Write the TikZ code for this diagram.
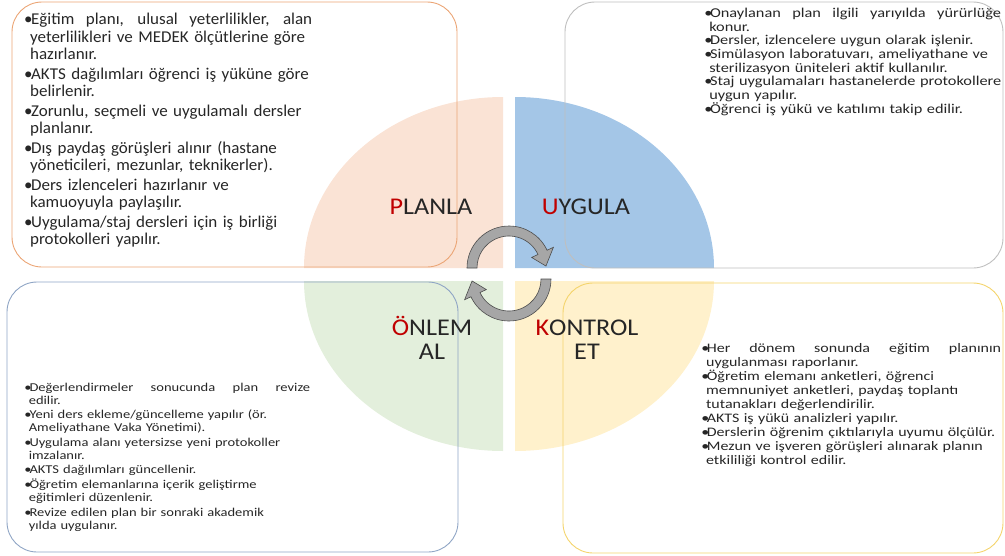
\documentclass[tikz,border=0pt]{standalone}
\usepackage{fontspec}
\setmainfont{Carlito}
\newfontfamily\tlfont[FakeStretch=1.03]{Carlito}
\newfontfamily\trfont[FakeStretch=1.21]{Carlito}
\newfontfamily\blfont[FakeStretch=1.21]{Carlito}
\newfontfamily\brfont[FakeStretch=1.23]{Carlito}
\newfontfamily\labfont[FakeStretch=1.09]{Carlito}

\definecolor{planfill}{HTML}{FAE3D5}
\definecolor{uygfill}{HTML}{A4C6E7}
\definecolor{onlfill}{HTML}{E3EFDC}
\definecolor{konfill}{HTML}{FFF1CC}
\definecolor{planline}{HTML}{EBA575}
\definecolor{uygline}{HTML}{BFBFBF}
\definecolor{onlline}{HTML}{8FA5C5}
\definecolor{konline}{HTML}{F4D46C}
\definecolor{letred}{HTML}{C00000}
\definecolor{lettxt}{HTML}{262626}
\definecolor{arrfill}{HTML}{A6A6A6}
\definecolor{arrline}{HTML}{4D4D4D}

\newcommand{\bul}{\makebox[0.36em][l]{\hspace{-0.06em}•}}
\newcommand{\jline}[2]{\makebox[#1][s]{\spaceskip=\fontdimen2\font plus 1fil\relax #2}}
\newcommand{\cont}{\hspace*{0.3em}}
\newcommand{\R}[1]{\textcolor{letred}{#1}}

\tikzset{
  textbox/.style={draw, rounded corners=30pt, line width=0.9pt, inner sep=0pt},
  bodytext/.style={inner sep=0pt, anchor=base west, align=left, text width=400pt, text=black!85},
  quadlabel/.style={inner sep=0pt, font=\labfont\fontsize{24}{24}\selectfont, text=lettxt, align=center},
  cyclearrow/.style={fill=arrfill, draw=arrline, line width=0.6pt}
}

\begin{document}
\begin{tikzpicture}[x=1pt, y=-1pt]
  \useasboundingbox (0,0) rectangle (1005,555);

  % Define quadrants
  \fill[planfill] (503,268) -- (304,268) arc[start angle=180, end angle=270, x radius=199, y radius=171] -- cycle;
  \fill[uygfill] (515,268) -- (515,97) arc[start angle=270, end angle=360, x radius=199, y radius=171] -- cycle;
  \fill[konfill] (515,281) -- (714,281) arc[start angle=0, end angle=90, x radius=199, y radius=170] -- cycle;
  \fill[onlfill] (503,281) -- (503,451) arc[start angle=90, end angle=180, x radius=199, y radius=170] -- cycle;

  % Define boxes
  \node[textbox, draw=planline, minimum width=445pt, minimum height=265pt] (BP) at (234.5,134.5) {};
  \node[textbox, draw=uygline, minimum width=438pt, minimum height=266pt] (BU) at (784,135) {};
  \node[textbox, draw=onlline, minimum width=451pt, minimum height=270pt] (BO) at (232.5,417) {};
  \node[textbox, draw=konline, minimum width=440pt, minimum height=270pt] (BK) at (783,418) {};

  % Cycle arrows
  \filldraw[cyclearrow, shift={(509,268)}] (180:42) arc[start angle=180, end angle=335, radius=42]
    -- (335:49) -- (357:37) -- (335:25) -- (335:32) arc[start angle=335, end angle=180, radius=32] -- cycle;
  \filldraw[cyclearrow, shift={(509,279)}, rotate=180] (180:42) arc[start angle=180, end angle=335, radius=42]
    -- (335:49) -- (357:37) -- (335:25) -- (335:32) arc[start angle=335, end angle=180, radius=32] -- cycle;

  % Quadrant labels
  \node[quadlabel] (P) at (431,207) {\R{P}LANLA};
  \node[quadlabel] (U) at (586,207) {\R{U}YGULA};
  \node[quadlabel] (O) at (432,338) {\R{Ö}NLEM\\AL};
  \node[quadlabel] (K) at (587,340) {\R{K}ONTROL\\ET};

  % Box texts
  \node[bodytext, font=\tlfont\fontsize{16.5}{17.6}\selectfont] (TP) at (25,24.5) {%
    \jline{287pt}{\bul Eğitim planı, ulusal yeterlilikler, alan}\\
    \cont yeterlilikleri ve MEDEK ölçütlerine göre\\
    \cont hazırlanır.\\[1.8pt]
    \bul AKTS dağılımları öğrenci iş yüküne göre\\
    \cont belirlenir.\\[1.8pt]
    \bul Zorunlu, seçmeli ve uygulamalı dersler\\
    \cont planlanır.\\[1.8pt]
    \bul Dış paydaş görüşleri alınır (hastane\\
    \cont yöneticileri, mezunlar, teknikerler).\\[1.8pt]
    \bul Ders izlenceleri hazırlanır ve\\
    \cont kamuoyuyla paylaşılır.\\[1.8pt]
    \bul Uygulama/staj dersleri için iş birliği\\
    \cont protokolleri yapılır.};
  \node[bodytext, font=\trfont\fontsize{13.5}{13.7}\selectfont] (TU) at (705,17.3) {%
    \jline{296pt}{\bul Onaylanan plan ilgili yarıyılda yürürlüğe}\\
    \cont konur.\\
    \bul Dersler, izlencelere uygun olarak işlenir.\\
    \bul Simülasyon laboratuvarı, ameliyathane ve\\
    \cont sterilizasyon üniteleri aktif kullanılır.\\
    \bul Staj uygulamaları hastanelerde protokollere\\
    \cont uygun yapılır.\\
    \bul Öğrenci iş yükü ve katılımı takip edilir.};
  \node[bodytext, font=\blfont\fontsize{12}{13}\selectfont] (TO) at (25,391) {%
    \jline{285pt}{\bul Değerlendirmeler sonucunda plan revize}\\
    \cont edilir.\\[1.6pt]
    \bul Yeni ders ekleme/güncelleme yapılır (ör.\\
    \cont Ameliyathane Vaka Yönetimi).\\[1.6pt]
    \bul Uygulama alanı yetersizse yeni protokoller\\
    \cont imzalanır.\\[1.6pt]
    \bul AKTS dağılımları güncellenir.\\[1.6pt]
    \bul Öğretim elemanlarına içerik geliştirme\\
    \cont eğitimleri düzenlenir.\\[1.6pt]
    \bul Revize edilen plan bir sonraki akademik\\
    \cont yılda uygulanır.};
  \node[bodytext, font=\brfont\fontsize{13}{13.9}\selectfont] (TK) at (702,352.8) {%
    \jline{299pt}{\bul Her dönem sonunda eğitim planının}\\
    \cont uygulanması raporlanır.\\
    \bul Öğretim elemanı anketleri, öğrenci\\
    \cont memnuniyet anketleri, paydaş toplantı\\
    \cont tutanakları değerlendirilir.\\
    \bul AKTS iş yükü analizleri yapılır.\\
    \bul Derslerin öğrenim çıktılarıyla uyumu ölçülür.\\
    \bul Mezun ve işveren görüşleri alınarak planın\\
    \cont etkililiği kontrol edilir.};
\end{tikzpicture}
\end{document}
